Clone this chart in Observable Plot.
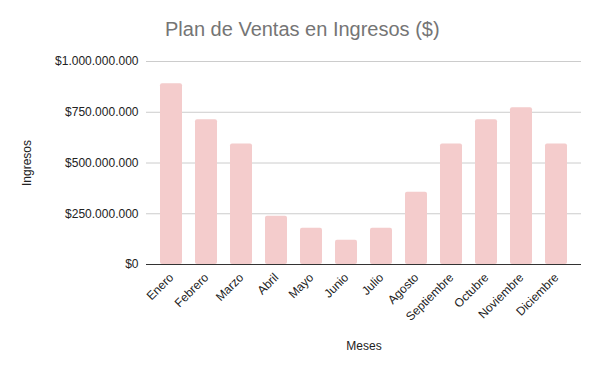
<!DOCTYPE html>
<html>
<head>
<meta charset="utf-8">
<script src="https://cdn.jsdelivr.net/npm/d3@7"></script>
<script src="https://cdn.jsdelivr.net/npm/@observablehq/plot@0.6"></script>
<style>
  html, body { margin: 0; padding: 0; background: #fff; }
  #wrap { position: relative; width: 600px; height: 371px; font-family: Arial, "Liberation Sans", sans-serif; }
  #title { position: absolute; left: 165px; top: 18px; font-size: 20px; color: #757575; white-space: nowrap; }
  #chart svg { display: block; }
</style>
</head>
<body>
<div id="wrap">
  <div id="chart"></div>
  <div id="title">Plan de Ventas en Ingresos ($)</div>
</div>
<script>
const titleText = "Plan de Ventas en Ingresos ($)";
const xLabel = "Meses";
const yLabel = "Ingresos";
const months = ["Enero", "Febrero", "Marzo", "Abril", "Mayo", "Junio", "Julio", "Agosto", "Septiembre", "Octubre", "Noviembre", "Diciembre"];
const ingresos = [891000000, 713000000, 594000000, 238000000, 178000000, 119000000, 178000000, 356000000, 594000000, 713000000, 772000000, 594000000];
const yTicks = [0, 250000000, 500000000, 750000000, 1000000000];

const data = months.map((m, i) => ({mes: m, valor: ingresos[i]}));
const locale = d3.formatLocale({decimal: ",", thousands: ".", grouping: [3], currency: ["$", ""]});
const fmt = locale.format("$,.0f");

document.getElementById("title").textContent = titleText;

const chart = Plot.plot({
  width: 600,
  height: 371,
  marginTop: 61,
  marginBottom: 107,
  marginLeft: 146,
  marginRight: 19,
  style: {fontFamily: "Arial, 'Liberation Sans', sans-serif", fontSize: "12px", color: "#222", background: "#fff"},
  x: {type: "band", domain: months, padding: 0.36},
  y: {domain: [0, 1000000000]},
  marks: [
    Plot.ruleY(yTicks.filter(d => d > 0), {stroke: "#cccccc", strokeWidth: 1}),
    Plot.barY(data, {x: "mes", y: "valor", fill: "#f4cccc", rx: 2}),
    Plot.ruleY([0], {stroke: "#333333", strokeWidth: 1}),
    Plot.axisY({ticks: yTicks, tickFormat: fmt, tickSize: 0, tickPadding: 8, label: yLabel, labelAnchor: "center", labelArrow: "none", labelOffset: 124, fontSize: 12}),
    Plot.axisX({tickRotate: -45, tickSize: 0, tickPadding: 11, label: xLabel, labelAnchor: "center", labelArrow: "none", labelOffset: 85, fontSize: 12})
  ]
});
document.getElementById("chart").appendChild(chart);
</script>
</body>
</html>
